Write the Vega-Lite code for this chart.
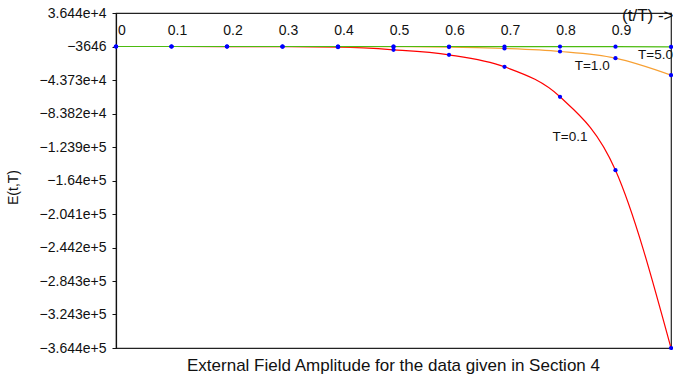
{
  "$schema": "https://vega.github.io/schema/vega-lite/v6.json",
  "autosize": "none",
  "width": 555,
  "height": 335,
  "padding": {"left": 116, "top": 13, "right": 2, "bottom": 31},
  "background": "white",
  "config": {
    "view": {"stroke": "#222", "strokeWidth": 1.2},
    "font": "Liberation Sans"
  },
  "title": {
    "text": "External Field Amplitude for the data given in Section 4",
    "orient": "bottom",
    "anchor": "middle",
    "offset": 3,
    "fontSize": 17,
    "fontWeight": "normal",
    "font": "Liberation Sans",
    "color": "#111"
  },
  "datasets": {
    "series": [
      {"t": 0.0, "E": -3646, "s": "T=0.1"},
      {"t": 0.1, "E": -3646, "s": "T=0.1"},
      {"t": 0.2, "E": -3700, "s": "T=0.1"},
      {"t": 0.3, "E": -3900, "s": "T=0.1"},
      {"t": 0.4, "E": -4500, "s": "T=0.1"},
      {"t": 0.5, "E": -7600, "s": "T=0.1"},
      {"t": 0.6, "E": -13580, "s": "T=0.1"},
      {"t": 0.7, "E": -27940, "s": "T=0.1"},
      {"t": 0.8, "E": -63830, "s": "T=0.1"},
      {"t": 0.9, "E": -151650, "s": "T=0.1"},
      {"t": 1.0, "E": -364400, "s": "T=0.1"},
      {"t": 0.0, "E": -3646, "s": "T=1.0"},
      {"t": 0.1, "E": -3646, "s": "T=1.0"},
      {"t": 0.2, "E": -3646, "s": "T=1.0"},
      {"t": 0.3, "E": -3646, "s": "T=1.0"},
      {"t": 0.4, "E": -3700, "s": "T=1.0"},
      {"t": 0.5, "E": -3900, "s": "T=1.0"},
      {"t": 0.6, "E": -4300, "s": "T=1.0"},
      {"t": 0.7, "E": -6040, "s": "T=1.0"},
      {"t": 0.8, "E": -9630, "s": "T=1.0"},
      {"t": 0.9, "E": -17650, "s": "T=1.0"},
      {"t": 1.0, "E": -37990, "s": "T=1.0"},
      {"t": 0.0, "E": -3646, "s": "T=5.0"},
      {"t": 0.1, "E": -3646, "s": "T=5.0"},
      {"t": 0.2, "E": -3646, "s": "T=5.0"},
      {"t": 0.3, "E": -3646, "s": "T=5.0"},
      {"t": 0.4, "E": -3646, "s": "T=5.0"},
      {"t": 0.5, "E": -3646, "s": "T=5.0"},
      {"t": 0.6, "E": -3646, "s": "T=5.0"},
      {"t": 0.7, "E": -3700, "s": "T=5.0"},
      {"t": 0.8, "E": -3750, "s": "T=5.0"},
      {"t": 0.9, "E": -3850, "s": "T=5.0"},
      {"t": 1.0, "E": -4100, "s": "T=5.0"}
    ],
    "labels": [
      {"t": 0.818, "E": -112500, "text": "T=0.1"},
      {"t": 0.858, "E": -26400, "text": "T=1.0"},
      {"t": 0.972, "E": -14400, "text": "T=5.0"}
    ]
  },
  "encoding": {
    "x": {
      "field": "t", "type": "quantitative",
      "scale": {"domain": [0, 1], "nice": false, "zero": false},
      "axis": {
        "orient": "top",
        "values": [0, 0.1, 0.2, 0.3, 0.4, 0.5, 0.6, 0.7, 0.8, 0.9, 1],
        "labelExpr": "datum.value == 0 ? '0' : datum.value == 1 ? '1' : format(datum.value, '.1f')",
        "domain": false,
        "ticks": false,
        "tickSize": 0,
        "grid": false,
        "labelPadding": -24,
        "labelBaseline": "bottom",
        "labelOffset": 5.5,
        "labelFlush": false,
        "labelOverlap": false,
        "labelFontSize": 14,
        "labelColor": "#111",
        "labelFont": "Liberation Sans",
        "title": "(t/T) ->",
        "titleX": 557,
        "titleY": 2,
        "titleAlign": "right",
        "titleBaseline": "middle",
        "titleFontSize": 17,
        "titleFontWeight": "normal",
        "titleFont": "Liberation Sans",
        "titleColor": "#111"
      }
    },
    "y": {
      "field": "E", "type": "quantitative",
      "scale": {"domain": [-364400, 36440], "nice": false, "zero": false},
      "axis": {
        "values": [36440, -3646, -43730, -83820, -123900, -164000, -204100, -244200, -284300, -324300, -364400],
        "labelExpr": "abs(datum.value) < 10000 ? format(datum.value, 'd') : format(datum.value, '.4~e')",
        "grid": false,
        "domainColor": "#111",
        "domainWidth": 1.2,
        "tickColor": "#111",
        "tickSize": 4,
        "labelPadding": 6,
        "labelFontSize": 14,
        "labelColor": "#111",
        "labelFont": "Liberation Sans",
        "labelOverlap": false,
        "labelFlush": false,
        "labelBound": false,
        "title": "E(t,T)",
        "titleX": -96,
        "titleY": 174,
        "titleFontSize": 14,
        "titleFontWeight": "normal",
        "titleFont": "Liberation Sans",
        "titleColor": "#111"
      }
    }
  },
  "layer": [
    {
      "data": {"name": "series"},
      "mark": {"type": "line", "interpolate": "monotone", "clip": true},
      "encoding": {
        "color": {
          "field": "s", "type": "nominal",
          "scale": {"domain": ["T=0.1", "T=1.0", "T=5.0"], "range": ["#ff0000", "#f7a033", "#4cbb10"]},
          "legend": null
        },
        "strokeWidth": {
          "field": "s", "type": "nominal",
          "scale": {"domain": ["T=0.1", "T=1.0", "T=5.0"], "range": [1.2, 1.2, 2.6]},
          "legend": null
        }
      }
    },
    {
      "data": {"name": "series"},
      "mark": {"type": "circle", "color": "#0000ff", "opacity": 1, "size": 18, "clip": false},
      "encoding": {}
    },
    {
      "data": {"name": "labels"},
      "mark": {"type": "text", "fontSize": 13.5, "font": "Liberation Sans", "color": "#111", "baseline": "middle", "align": "center"},
      "encoding": {
        "text": {"field": "text"}
      }
    }
  ]
}
